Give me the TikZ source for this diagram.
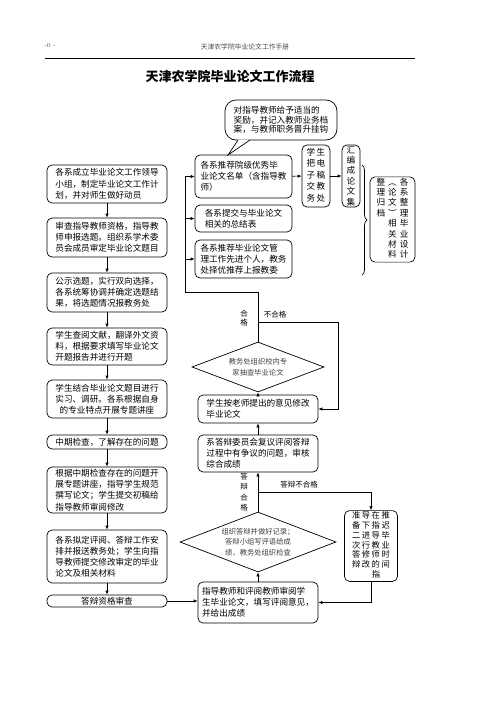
\documentclass[tikz,border=0pt]{standalone}
\usepackage{fontspec}
\newfontfamily\cjk{Noto Sans CJK SC}
\usetikzlibrary{arrows.meta, shapes.geometric, decorations.pathreplacing}

\tikzset{
  box/.style={draw, rounded corners=5pt, line width=0.7pt, align=left, inner sep=2pt,
    minimum width=120pt, font=\cjk\fontsize{8.6}{11.2}\selectfont},
  sbox/.style={box, minimum width=97pt},
  vbox/.style={draw, rounded corners=5pt, line width=0.7pt, align=center, inner sep=1pt,
    font=\cjk\fontsize{8.6}{10.4}\selectfont},
  choice/.style={draw, diamond, shape aspect=2.6, line width=0.7pt, inner sep=0pt, align=center,
    text=black!75, font=\cjk\fontsize{7.3}{10.5}\selectfont},
  lbl/.style={inner sep=0pt, align=center, font=\cjk\fontsize{7.5}{8.6}\selectfont},
  arr/.style={-{Latex[length=4pt,width=3.5pt]}, line width=0.7pt},
}

\begin{document}
\begin{tikzpicture}[x=1pt, y=-1pt]
\useasboundingbox (0,0) rectangle (496,702);

%Header:
\node (Pg) [font=\fontsize{6}{7}\selectfont, text=black!70] at (50,46) {-0 -};
\node (Hd) [font=\cjk\fontsize{6.8}{8}\selectfont, text=black!70] at (245,47) {天津农学院毕业论文工作手册};
\coordinate (HL) at (45,58);
\coordinate (HR) at (415,58);
\draw [line width=0.8pt] (HL) -- (HR);
\node (Title) [font=\cjk\fontsize{13}{15}\selectfont\bfseries] at (230,76) {天津农学院毕业论文工作流程};

%Left column:
\node (B1) [box, minimum height=38pt] at (107,184) {各系成立毕业论文工作领导\\小组，制定毕业论文工作计\\划，并对师生做好动员};
\node (B2) [box, minimum height=39pt] at (107,237.5) {审查指导教师资格，指导教\\师申报选题。组织系学术委\\员会成员审定毕业论文题目};
\node (B3) [box, minimum height=39pt] at (107,292.5) {公示选题，实行双向选择，\\各系统筹协调并确定选题结\\果，将选题情况报教务处};
\node (B4) [box, minimum height=37pt] at (107,346.5) {学生查阅文献，翻译外文资\\料，根据要求填写毕业论文\\开题报告并进行开题};
\node (B5) [box, minimum height=38pt, align=center] at (107,399) {学生结合毕业论文题目进行\\实习、调研。各系根据自身\\的专业特点开展专题讲座};
\node (B6) [box, minimum height=14pt, inner ysep=0pt] at (107,442) {中期检查，了解存在的问题};
\node (B7) [box, minimum height=46pt] at (107,490) {根据中期检查存在的问题开\\展专题讲座，指导学生规范\\撰写论文；学生提交初稿给\\指导教师审阅修改};
\node (B8) [box, minimum height=53pt] at (107,556.5) {各系拟定评阅、答辩工作安\\排并报送教务处；学生向指\\导教师提交修改审定的毕业\\论文及相关材料};
\node (B9) [box, minimum height=12pt, inner ysep=0pt, align=center] at (107,601) {答辩资格审查};

%Right column, top:
\node (Cal) [box, rounded corners=11pt, minimum width=112pt, minimum height=40pt,
  font=\cjk\fontsize{8.6}{9.6}\selectfont] at (281,120) {对指导教师给予适当的\\奖励，并记入教师业务档\\案，与教师职务晋升挂钩};
\node (R1) [sbox, minimum height=43pt] at (243.5,176.5) {各系推荐院级优秀毕\\业论文名单（含指导教\\师）};
\node (R2) [sbox, minimum height=27pt] at (243.5,218.5) {各系提交与毕业论文\\相关的总结表};
\node (R3) [sbox, minimum height=38pt] at (243.5,259) {各系推荐毕业论文管\\理工作先进个人，教务\\处择优推荐上报教委};
\node (R4) [vbox, minimum width=28pt, minimum height=62pt,
  font=\cjk\fontsize{8.6}{11.6}\selectfont] at (316,176)
  {\begin{tabular}{@{}c@{\hspace{1.5pt}}c@{}}学&生\\把&电\\子&稿\\交&教\\务&处\end{tabular}};
\node (R5) [vbox, minimum width=18pt, minimum height=62pt] at (351,176) {汇\\编\\成\\论\\文\\集};
\node (R6) [vbox, minimum width=45pt, minimum height=85pt,
  font=\cjk\fontsize{8.6}{10.4}\selectfont] at (392.5,219.5)
  {\begin{tabular}{@{}c@{\hspace{3pt}}c@{\hspace{3pt}}c@{}}
  整&︵&各\\理&论&系\\归&文&整\\档&︶&理\\&相&毕\\&关&业\\&材&设\\&料&计\end{tabular}};

%Right column, checks:
\node (D1) [choice, minimum width=132pt, minimum height=50pt] at (258,367) {教务处组织校内专\\家抽查毕业论文};
\node (Rev) [box, minimum height=28pt] at (258,409) {学生按老师提出的意见修改\\毕业论文};
\node (Rcv) [box, minimum height=37pt] at (258,453.5) {系答辩委员会复议评阅答辩\\过程中有争议的问题，审核\\综合成绩};
\node (D2) [choice, minimum width=156pt, minimum height=60pt] at (258,542) {组织答辩并做好记录；\\答辩小组写评语给成\\绩，教务处组织检查};
\node (Twice) [vbox, minimum width=53pt, minimum height=68pt,
  font=\cjk\fontsize{8.3}{9.5}\selectfont] at (371,546)
  {\begin{tabular}{@{}c@{\hspace{1.5pt}}c@{\hspace{1.5pt}}c@{\hspace{1.5pt}}c@{}}
  准&导&在&推\\备&下&指&迟\\二&进&导&毕\\次&行&教&业\\答&修&师&时\\辩&改&的&间\\&&指&\end{tabular}};
\node (Rvw) [box, minimum height=41pt] at (258,602.5) {指导教师和评阅教师审阅学\\生毕业论文，填写评阅意见，\\并给出成绩};

%Labels:
\node (Lok) [lbl] at (244,318) {合\\格};
\node (Lno) [lbl] at (275,315) {不合格};
\node (Lok2) [lbl, font=\cjk\fontsize{7.5}{10.5}\selectfont] at (244,492) {答\\辩\\合\\格};
\node (Lno2) [lbl] at (299,485) {答辩不合格};

%Connectors:
\coordinate (Tip) at (228,155);
\coordinate (TL) at (238,140);
\coordinate (TR) at (250,140);
\fill [white] (238,139.5) -- (Tip) -- (250,139.5) -- cycle;
\draw [line width=0.7pt] (TL) -- (Tip) -- (TR);

\coordinate (SBot) at (185,292);
\coordinate (STop) at (185,176.5);
\coordinate (F1) at (258,322);
\coordinate (F1R) at (338,322);
\coordinate (F2) at (258,492);
\coordinate (BrT) at (362,165);
\coordinate (BrB) at (362,275);

\path [arr]
(B1) edge (B2)
(B2) edge (B3)
(B3) edge (B4)
(B4) edge (B5)
(B5) edge (B6)
(B6) edge (B7)
(B7) edge (B8)
(B8) edge (B9)
(B9) edge (B9 -| Rvw.west)
(Rvw) edge (D2)
(D2) edge (Rcv)
(Rcv) edge (Rev)
(Rev) edge (D1)
(STop) edge (R1)
(SBot |- R2.west) edge (R2)
(SBot |- R3.west) edge (R3)
(R1) edge (R4)
(R4) edge (R5)
;
\draw [line width=0.7pt] (D1.north) |- (SBot) -- (STop);
\draw [arr] (F1) -- (F1R) |- (Rev.east);
\draw [arr] (F2) -| (Twice.north);
\draw [arr] (Twice.south) |- (Rvw.east);
\draw [line width=0.7pt, decorate, decoration={brace, amplitude=5pt}] (BrT) -- (BrB);

\end{tikzpicture}
\end{document}
